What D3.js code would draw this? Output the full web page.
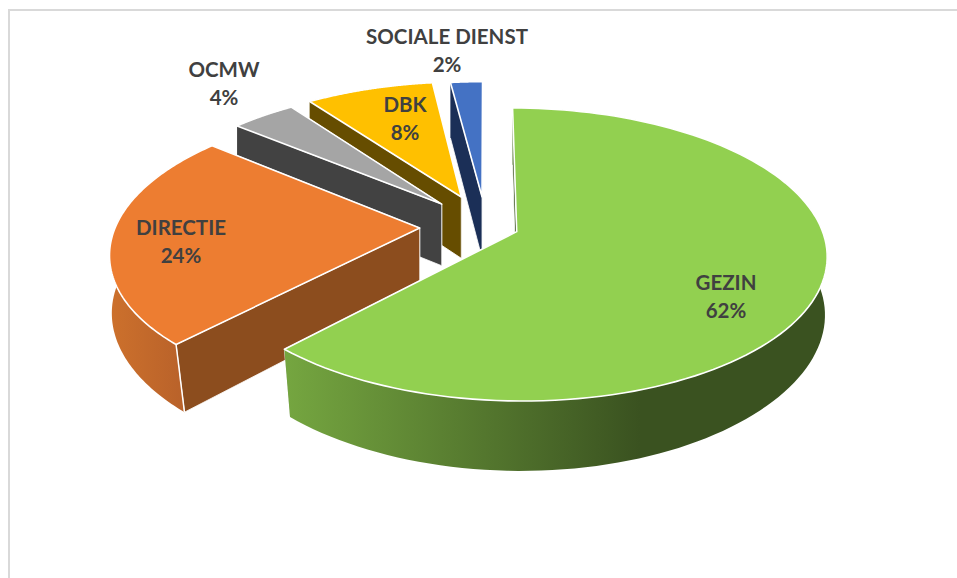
<!DOCTYPE html>
<html>
<head>
<meta charset="utf-8">
<script src="https://cdn.jsdelivr.net/npm/d3@7/dist/d3.min.js"></script>
<style>
html,body{margin:0;padding:0;background:#fff;overflow:hidden}
svg{display:block}
text{font-family:Lato,"Open Sans",sans-serif;font-weight:700;font-size:20.5px;fill:#404040;text-anchor:middle}
</style>
</head>
<body>
<svg id="chart" width="957" height="578"></svg>
<script>
// Data
const categories = ["GEZIN", "DIRECTIE", "OCMW", "DBK", "SOCIALE DIENST"];
const values = [62, 24, 4, 8, 2];
const percentLabels = ["62%", "24%", "4%", "8%", "2%"];
const explosions = [0.108, 0.218, 0.218, 0.228, 0.215];

// Styling
const topColors = ["#92d050", "#ed7d31", "#a5a5a5", "#ffc000", "#4472c4"];
const cutColors = ["#3a5220", "#8c4d1e", "#424242", "#664d00", "#1b2f57"];
const wallStops = [["#75a640", "#3a5220"], ["#cc702c", "#b9622a"], ["#424242", "#424242"], ["#664d00", "#664d00"], ["#1b2f57", "#1b2f57"]];
const wallRanges = [[285, 640], [112, 183], [0, 1], [0, 1], [0, 1]];
const labelAnchors = [[726, 290], [181, 235], [224, 77], [405, 112], [447, 44]];
const paintOrder = [4, 3, 2, 1, 0];

// Projection of the tilted disc
const W = 957, H = 578;
const cx = 486, cy = 226, rx = 304, ry = 141.2, depth = 64, persp = 0.155, depthPersp = 0.022, depthShear = 0.033;
const xScale = d3.scaleLinear().domain([-1, 1]).range([cx - rx, cx + rx]);
const yScale = d3.scaleLinear().domain([-1, 1]).range([cy - ry, cy + ry]);
function project(u, v, z) {
  const D = 1 - persp * v + depthPersp * z;
  const Dx = 1 - persp * v + depthShear * z * Math.max(v, 0);
  return [cx + (xScale(u) - cx) / Dx, cy + (yScale(v) - cy + depth * z) / D];
}

const svg = d3.select("#chart");
const defs = svg.append("defs");
const line = d3.line();
const closed = pts => line(pts) + "Z";

// Chart-area border
svg.append("path").attr("d", `M9,${H}V10H${W}`).attr("fill", "none")
  .attr("stroke", "#d9d9d9").attr("stroke-width", 2);

const slices = d3.pie().sort(null).value(d => d)(values);

slices.forEach((s, i) => {
  const g = defs.append("linearGradient").attr("id", "wall" + i)
    .attr("gradientUnits", "userSpaceOnUse")
    .attr("x1", wallRanges[i][0]).attr("x2", wallRanges[i][1]).attr("y1", 0).attr("y2", 0);
  g.append("stop").attr("offset", 0).attr("stop-color", wallStops[i][0]);
  g.append("stop").attr("offset", 1).attr("stop-color", wallStops[i][1]);
});

paintOrder.forEach(i => {
  const s = slices[i];
  const mid = (s.startAngle + s.endAngle) / 2;
  const ou = explosions[i] * Math.sin(mid), ov = -explosions[i] * Math.cos(mid);
  const rim = d3.range(0, 121).map(k => {
    const a = s.startAngle + (s.endAngle - s.startAngle) * k / 120;
    return [ou + Math.sin(a), ov - Math.cos(a)];
  });
  const at = z => rim.map(p => project(p[0], p[1], z));
  const apex = z => project(ou, ov, z);
  const topRim = at(0), lowRim = at(1);
  const G = svg.append("g").attr("stroke", "#fff").attr("stroke-linejoin", "round");

  // cut faces, rear one first
  const first = [apex(0), topRim[0], lowRim[0], apex(1)];
  const last = [apex(0), topRim[120], lowRim[120], apex(1)];
  G.append("path").attr("d", closed(last)).attr("fill", cutColors[i]).attr("stroke-width", 0.8);
  G.append("path").attr("d", closed(first)).attr("fill", cutColors[i]).attr("stroke-width", 0.8);

  // outer wall
  G.append("path").attr("d", closed(topRim.concat(lowRim.slice().reverse())))
    .attr("fill", `url(#wall${i})`).attr("stroke", "none");
  // white seam on the front corner of the outer wall
  if (i === 1) {
    G.append("path").attr("d", line([topRim[0], lowRim[0]]))
      .attr("fill", "none").attr("stroke-width", 1.5);
  }

  // top face
  G.append("path").attr("d", closed([apex(0)].concat(topRim)))
    .attr("fill", topColors[i]).attr("stroke-width", 1.6);
});

// Labels
categories.forEach((c, i) => {
  const [x, y] = labelAnchors[i];
  svg.append("text").attr("x", x).attr("y", y).text(c);
  svg.append("text").attr("x", x).attr("y", y + 28).text(percentLabels[i]);
});
</script>
</body>
</html>
